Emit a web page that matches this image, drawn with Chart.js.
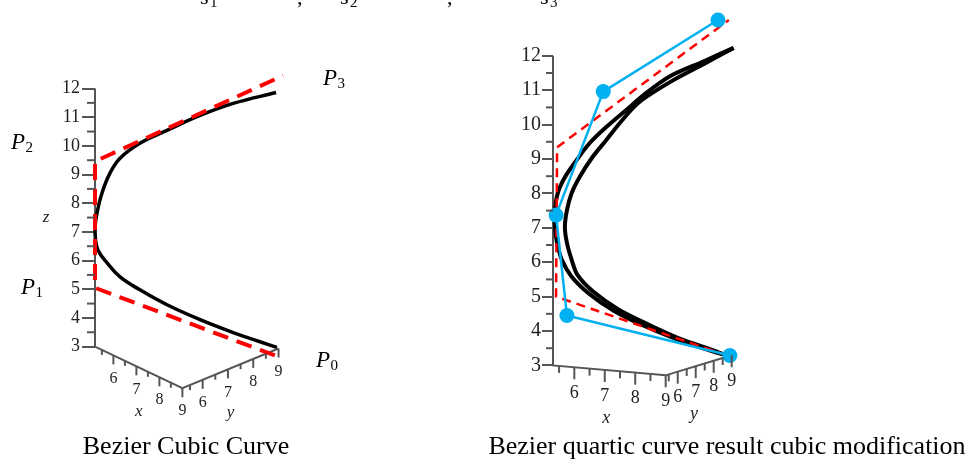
<!DOCTYPE html>
<html><head><meta charset="utf-8">
<script src="https://cdn.jsdelivr.net/npm/chart.js@4.4.1/dist/chart.umd.min.js"></script>
<style>
html,body{margin:0;padding:0;background:#fff;width:975px;height:469px;overflow:hidden;position:relative}
.box{position:absolute;top:0;height:469px}
.cap{position:absolute;font-family:'Liberation Serif',serif;font-size:26px;line-height:26px;color:#000;white-space:nowrap;transform:translateX(-50%)}
.top{position:absolute;font-family:'Liberation Serif',serif;color:#000;white-space:nowrap}
</style></head><body>
<div class="box" style="left:0;width:420px"><canvas id="c1"></canvas></div>
<div class="box" style="left:420px;width:555px"><canvas id="c2"></canvas></div>
<span class="top" style="left:200px;top:-14px;font-size:22px;line-height:22px">s</span><span class="top" style="left:210px;top:-5px;font-size:15px;line-height:15px">1</span>
<span class="top" style="left:297px;top:-14px;font-size:22px;line-height:22px">,</span>
<span class="top" style="left:340px;top:-14px;font-size:22px;line-height:22px">s</span><span class="top" style="left:350px;top:-5px;font-size:15px;line-height:15px">2</span>
<span class="top" style="left:447px;top:-14px;font-size:22px;line-height:22px">,</span>
<span class="top" style="left:540px;top:-14px;font-size:22px;line-height:22px">s</span><span class="top" style="left:550px;top:-5px;font-size:15px;line-height:15px">3</span>
<div class="cap" style="left:186px;top:433px">Bezier Cubic Curve</div>
<div class="cap" style="left:727px;top:433px">Bezier quartic curve result cubic modification</div>
<script>
// ---- tick labels ----
const zTicks = [3,4,5,6,7,8,9,10,11,12];
const xTicks = [6,7,8,9];
const yTicks = [6,7,8,9];
const pointNames = ['0','1','2','3'];

// ---- left: Bezier cubic curve (horizontal screen-plane value h, height z) ----
const cubicCurveH = [6.32,5.73,4.80,3.65,2.50,1.56,0.87,0.42,0.10,0.01,0.00,0.07,0.24,0.52,0.87,1.56,2.50,3.65,4.80,6.29];
const cubicCurveZ = [2.97,3.17,3.49,3.94,4.46,4.98,5.43,5.92,6.37,6.82,7.17,7.66,8.35,9.05,9.57,10.09,10.54,11.06,11.48,11.86];
const cubicPolyH = [6.25,0,0,6.53];
const cubicPolyZ = [2.69,5.05,9.46,12.45];

// ---- right: quartic curve result & cubic modification ----
const quarticOuterH = [5.21,4.63,3.67,2.66,1.79,1.07,0.55,0.26,0.12,0.06,0.06,0.14,0.35,0.69,1.07,1.56,2.14,2.72,3.47,4.46,5.32];
const quarticOuterZ = [3.26,3.43,3.75,4.16,4.59,5.08,5.58,6.07,6.56,7.02,7.51,8.01,8.47,8.96,9.45,9.92,10.41,10.90,11.42,11.85,12.23];
const quarticInnerH = [5.21,4.66,3.73,2.81,1.94,1.19,0.72,0.55,0.41,0.35,0.41,0.55,0.78,1.16,1.56,2.03,2.52,3.47,4.46,5.32];
const quarticInnerZ = [3.26,3.46,3.78,4.19,4.62,5.14,5.63,6.07,6.56,7.02,7.51,8.01,8.47,9.05,9.54,10.12,10.64,11.25,11.77,12.23];
const quarticCtrlH = [5.21,0.41,0.09,1.48,4.86];
const quarticCtrlZ = [3.29,4.45,7.37,10.96,13.04];
const cubicModH = [5.12,0.09,0.12,5.18];
const cubicModZ = [3.29,5.00,9.34,13.04];

const AXIS = '#555';
const RED = '#ff0000';
const BLUE = '#00b0f0';
const SERIF = "'Liberation Serif', serif";

function pts(h, z){ return h.map((v,i)=>({x:v, y:z[i]})); }

function makeView(v){
  v.proj = (x,y,z) => ({x: v.ax*(x-v.x0) + v.ay*(y-v.y0), y: z + v.bx*(x-v.x0) + v.by*(y-v.y0)});
  return v;
}

const leftView = makeView({ax:0.799, bx:-0.382, ay:0.879, by:0.365, x0:5.2, y0:5.2, x1:9, y1:9,
  zMin:-0.822, zMax:14.641, hMax:11.29, axisW:95, zTickLen:13, zMinorLen:8, zFont:18, zPad:2,
  tickLen:9, minorLen:5, labelOff:23, labelFont:16, titleOff:44, titleFont:17, xTitle:7.1, yTitle:7.1});
const rightView = makeView({ax:0.897, bx:-0.078, ay:0.53, by:0.159, x0:5.3, y0:5.33, x1:9, y1:9,
  zMin:0.367, zMax:13.244, hMax:12.21, axisW:133, zTickLen:11, zMinorLen:7, zFont:20, zPad:1,
  tickLen:12, minorLen:7, labelOff:26, labelFont:18, titleOff:48, titleFont:18, xTitle:7.05, yTitle:6.9});

function framePts(v){
  return [{x:0,y:12},{x:0,y:3}, v.proj(v.x1,v.y0,3), v.proj(v.x1,v.y1,3)];
}

function framePlugin(v, opts){
  return {
    id: 'frame3d',
    afterDatasetsDraw(chart){
      const ctx = chart.ctx, xs = chart.scales.x, ys = chart.scales.y;
      const P = p => [xs.getPixelForValue(p.x), ys.getPixelForValue(p.y)];
      const seg = (a,b,c,d) => { ctx.beginPath(); ctx.moveTo(a,b); ctx.lineTo(c,d); ctx.stroke(); };
      ctx.save();
      ctx.strokeStyle = AXIS; ctx.lineWidth = 2;
      for (let i=0;i<zTicks.length-1;i++){
        const [X,Y] = P({x:0, y:(zTicks[i]+zTicks[i+1])/2});
        seg(X - v.zMinorLen, Y, X, Y);
      }
      ctx.fillStyle = '#222';
      ctx.textAlign = 'center'; ctx.textBaseline = 'middle';
      ctx.font = v.labelFont + 'px ' + SERIF;
      xTicks.forEach(t => {
        let [X,Y] = P(v.proj(t, v.y0, 3)); seg(X,Y,X,Y+v.tickLen);
        ctx.fillText(String(t), X, Y + v.labelOff);
        [X,Y] = P(v.proj(t-0.5, v.y0, 3)); seg(X,Y,X,Y+v.minorLen);
      });
      yTicks.forEach(t => {
        let [X,Y] = P(v.proj(v.x1, t, 3)); seg(X,Y,X,Y+v.tickLen);
        ctx.fillText(String(t), X, Y + v.labelOff);
        [X,Y] = P(v.proj(v.x1, t-0.5, 3)); seg(X,Y,X,Y+v.minorLen);
      });
      ctx.font = 'italic ' + v.titleFont + 'px ' + SERIF;
      let [X,Y] = P(v.proj(v.xTitle, v.y0, 3)); ctx.fillText('x', X, Y + v.titleOff);
      [X,Y] = P(v.proj(v.x1, v.yTitle, 3)); ctx.fillText('y', X, Y + v.titleOff);
      if (opts.zTitle){
        [X,Y] = P({x:0, y:7.5}); ctx.fillText('z', X - 49, Y);
      }
      if (opts.pLabels){
        ctx.fillStyle = '#000';
        opts.pLabels.h.forEach((h,i) => {
          const [X,Y] = P({x:h, y:opts.pLabels.z[i]});
          const cx = X + opts.pLabels.dx[i], cy = Y + opts.pLabels.dy[i];
          ctx.textAlign = 'left'; ctx.textBaseline = 'alphabetic';
          ctx.font = 'italic 23px ' + SERIF;
          const w = ctx.measureText('P').width;
          const x0 = cx - 11;
          ctx.fillText('P', x0, cy + 6);
          ctx.font = '15px ' + SERIF;
          ctx.fillText(pointNames[i], x0 + w + 0.5, cy + 9);
        });
      }
      ctx.restore();
    }
  };
}

function baseOptions(v){
  return {
    responsive: true, maintainAspectRatio: false, animation: false, events: [],
    layout: {padding: {top:12, bottom:12, left:0, right:0}},
    plugins: {legend:{display:false}, tooltip:{enabled:false}, title:{display:false}},
    scales: {
      x: {type:'linear', display:false, min:0, max:v.hMax},
      y: {type:'linear', position:'left', min:v.zMin, max:v.zMax,
          border:{display:false},
          grid:{display:true, drawOnChartArea:false, drawTicks:true, tickLength:v.zTickLen, color:AXIS, tickColor:AXIS, lineWidth:2, tickWidth:2},
          ticks:{font:{family:SERIF, size:v.zFont}, color:'#222', padding:v.zPad},
          afterBuildTicks: s => { s.ticks = zTicks.map(t => ({value:t})); },
          afterFit: s => { s.width = v.axisW; }
      }
    },
    elements: {point:{radius:0}}
  };
}

new Chart(document.getElementById('c1'), {
  type: 'scatter',
  data: {datasets: [
    {data: pts(cubicPolyH, cubicPolyZ), showLine:true, borderColor:RED, borderWidth:4, borderDash:[16,9], pointRadius:0, tension:0, clip:false},
    {data: pts(cubicCurveH, cubicCurveZ), showLine:true, borderColor:'#000', borderWidth:3.5, pointRadius:0, tension:0.4, clip:false},
    {data: framePts(leftView), showLine:true, borderColor:AXIS, borderWidth:2, pointRadius:0, tension:0, clip:false}
  ]},
  options: baseOptions(leftView),
  plugins: [framePlugin(leftView, {zTitle:true, pLabels:{h:cubicPolyH, z:cubicPolyZ, dx:[52,-63,-73,51], dy:[6,0,-18,3]}})]
});

new Chart(document.getElementById('c2'), {
  type: 'scatter',
  data: {datasets: [
    {data: pts(quarticCtrlH, quarticCtrlZ), showLine:true, borderColor:BLUE, borderWidth:2.5, pointRadius:7.5, pointBackgroundColor:BLUE, pointBorderColor:BLUE, pointBorderWidth:0, tension:0, clip:false},
    {data: pts(cubicModH, cubicModZ), showLine:true, borderColor:RED, borderWidth:2.5, borderDash:[9,6], pointRadius:0, tension:0, clip:false},
    {data: pts(quarticOuterH, quarticOuterZ), showLine:true, borderColor:'#000', borderWidth:4, pointRadius:0, tension:0.3, clip:false},
    {data: pts(quarticInnerH, quarticInnerZ), showLine:true, borderColor:'#000', borderWidth:4, pointRadius:0, tension:0.3, clip:false},
    {data: framePts(rightView), showLine:true, borderColor:AXIS, borderWidth:2, pointRadius:0, tension:0, clip:false}
  ]},
  options: baseOptions(rightView),
  plugins: [framePlugin(rightView, {})]
});
</script>
</body></html>
